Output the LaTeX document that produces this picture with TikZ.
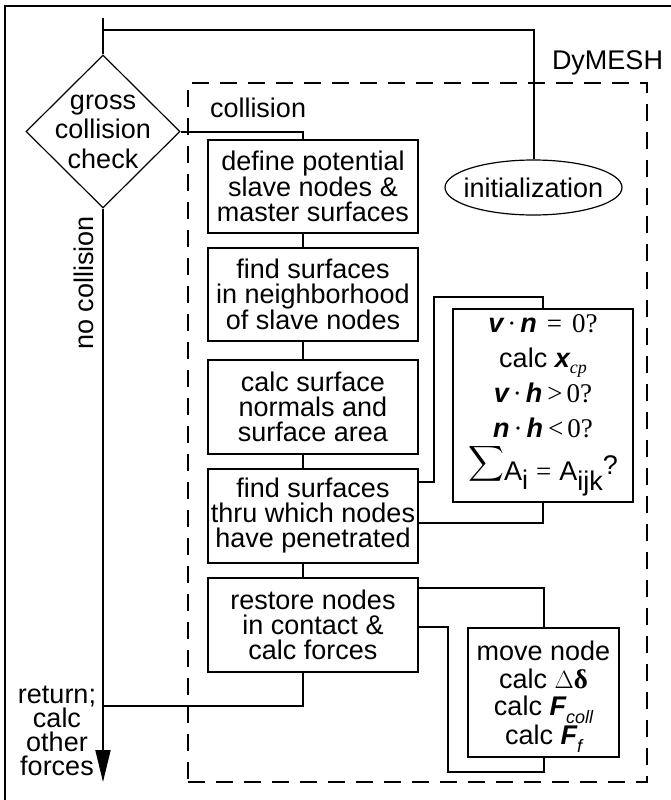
\documentclass[tikz,border=0pt]{standalone}
\usepackage{amsmath}
\usepackage{fontspec}
\setmainfont{Liberation Sans}
\newfontfamily\serif{Liberation Serif}
\usetikzlibrary{shapes.geometric,arrows.meta}
\newcommand\bsi[1]{{\bfseries\itshape #1}}
\newcommand\subsz{\fontsize{18}{18}\selectfont}
\begin{document}
\begin{tikzpicture}[x=1pt,y=-1pt,line width=2pt,
  txt/.style={font=\fontsize{27}{27}\selectfont},
  box/.style={draw,line width=2pt,minimum width=210pt,minimum height=93pt,inner sep=0pt,align=center,font=\fontsize{27}{25}\selectfont},
  thin/.style={draw,line width=1.2pt},
  conn/.style={line width=2pt},
  dashbox/.style={draw,line width=2pt,dash pattern=on 17pt off 11pt}]
\useasboundingbox (0,0) rectangle (671,800);
% frame
\draw[line width=2pt] (5,800) -- (5,6) -- (671,6);
% dashed DyMESH box
\node[dashbox,minimum width=459pt,minimum height=699pt,inner sep=0pt] (dym) at (417.5,432.5) {};
\node[txt,anchor=base east,inner sep=0pt] (dymlabel) at (664,70) {DyMESH};
% diamond
\node[diamond,thin,aspect=1,minimum width=154pt,minimum height=153pt,inner sep=0pt] (d) at (103,131.5) {};
\node[align=center,inner sep=0pt,font=\fontsize{27}{29.5}\selectfont] (dtext) at (103,131.5) {gross\\collision\\check};
% ellipse
\node[ellipse,thin,minimum width=177pt,minimum height=55pt,inner sep=0pt,txt] (ell) at (533.5,187.5) {\makebox[0pt]{initialization}};
% main boxes
\node[box] (b1) at (313,186.5) {define potential\\slave nodes \&\\master surfaces};
\node[box] (b2) at (313,294.5) {find surfaces\\in neighborhood\\of slave nodes};
\node[box,minimum height=94pt] (b3) at (313,407) {calc surface\\normals and\\surface area};
\node[box,minimum height=94pt] (b4) at (313,516) {find surfaces\\thru which nodes\\have penetrated};
\node[box,minimum height=94pt] (b5) at (313,625) {restore nodes\\in contact \&\\calc forces};
% condition box
\node[draw,line width=2pt,minimum width=180pt,minimum height=193pt,inner sep=0pt,align=center,font=\fontsize{27}{35}\selectfont] (cond) at (543,405.5) {%
\bsi{v}\hspace{4pt}{\serif\textperiodcentered}\hspace{4pt}\bsi{n}\hspace{10pt}{\serif =}\hspace{10pt}{\serif 0?}\\
calc \bsi{x}\raisebox{-6pt}{\subsz\serif\itshape cp}\\
\bsi{v}\hspace{4pt}{\serif\textperiodcentered}\hspace{4pt}\bsi{h}\hspace{5pt}{\serif >\hspace{4pt}0?}\\
\bsi{n}\hspace{4pt}{\serif\textperiodcentered}\hspace{4pt}\bsi{h}\hspace{5pt}{\serif <\hspace{4pt}0?}\\[5pt]
\raisebox{11pt}{$\displaystyle\sum$}A\raisebox{-9pt}{i}\hspace{8pt}{\serif =}\hspace{8pt}A\raisebox{-10pt}{ijk}\raisebox{6pt}{?}};
% move node box
\node[draw,line width=2pt,minimum width=151pt,minimum height=129pt,inner sep=0pt,align=center,font=\fontsize{27}{27.5}\selectfont] (mv) at (543.5,692.5) {%
\rule{0pt}{28.5pt}move node\\
calc {\serif $\Delta$\textbf{δ}}\\
calc \bsi{F}\raisebox{-8pt}{\subsz\itshape coll}\\
calc \bsi{F}\raisebox{-8pt}{\subsz\itshape f}};
% labels
\node[txt,anchor=base west,inner sep=0pt] (lcol) at (209,117) {collision};
\node[txt,rotate=90,inner sep=0pt] (lnc) at (84,283) {no collision};
\node[align=center,inner sep=0pt,font=\fontsize{27}{24}\selectfont] (lret) at (57,731) {return;\\calc\\other\\forces};
% coordinates
\coordinate (stub) at (103,18);
\coordinate (topc) at (103,30);
\coordinate (tip) at (103,782);
\coordinate (join) at (103,706);
% connectors
\draw[conn] (stub) -- (d.north);
\draw[conn] (ell.north) |- (topc);
\draw[conn] (d.east) -| ([xshift=-10pt]b1.north);
\draw[conn,-{Triangle[length=32pt,width=15pt]}] (d.south) -- (tip);
\draw[conn] ([xshift=-10pt]b1.south) -- ([xshift=-10pt]b2.north);
\draw[conn] ([xshift=-10pt]b2.south) -- ([xshift=-10pt]b3.north);
\draw[conn] ([xshift=-10pt]b3.south) -- ([xshift=-10pt]b4.north);
\draw[conn] ([xshift=-10pt]b4.south) -- ([xshift=-10pt]b5.north);
\draw[conn] ([xshift=-10pt]b5.south) |- (join);
\draw[conn] ([yshift=34pt]b4.east) -| (434,297) -| (cond.north);
\draw[conn] (cond.south) |- ([yshift=-7pt]b4.east);
\draw[conn] ([yshift=37pt]b5.east) -| (mv.north);
\draw[conn] (mv.south) |- (448,772) |- ([yshift=-2pt]b5.east);
\end{tikzpicture}
\end{document}
